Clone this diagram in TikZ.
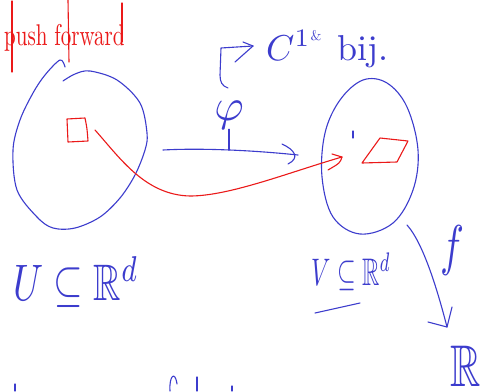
\documentclass[tikz,border=0pt]{standalone}
\usepackage{amssymb}
\usepackage{graphicx}
\definecolor{penblue}{RGB}{60,60,205}
\definecolor{penred}{RGB}{235,25,25}
\begin{document}
\begin{tikzpicture}[x=1pt,y=-1pt,
 bpen/.style={draw=penblue,line width=1.1pt,line cap=round,line join=round},
 rpen/.style={draw=penred,line width=1.1pt,line cap=round,line join=round},
 blab/.style={text=penblue,inner sep=0pt},
 rlab/.style={text=penred,inner sep=0pt}]
\useasboundingbox[fill=white] (0,0) rectangle (481,391);

% push forward
\node[rlab,anchor=base west] (pf) at (4,45) {\scalebox{2.1}[3]{push forward}};
\draw[rpen] (12,1) -- (12,72);
\draw[rpen] (68,0) -- (69,62);
\draw[rpen] (122,3) -- (122,42);

% left region U
\draw[bpen] plot[smooth,tension=0.55] coordinates {(65,67) (60,60) (45,75) (33,93) (20,120) (13,150) (17,190) (37,217) (53,228) (75,228) (100,217) (120,198) (135,175) (145,150) (147,133) (140,103) (117,80) (90,71) (75,74) (63,81)};
\draw[rpen] (67,119) -- (85,118) .. controls (87,128) .. (88,141) -- (68,142) -- cycle;

% right region V
\draw[bpen] plot[smooth cycle,tension=0.6] coordinates {(363,80) (387,83) (407,107) (418,150) (413,190) (393,223) (360,234) (333,217) (322,177) (325,133) (340,100)};
\draw[bpen] (353,131) -- (353,138);
\draw[rpen] (362,163) -- (380,138) -- (408,141) -- (397,162) -- cycle;

% red push-forward curve
\coordinate (rs) at (95,130);
\coordinate (re) at (342,157);
\draw[rpen] (rs) .. controls (120,158) and (145,195) .. (190,196) .. controls (230,196) and (290,172) .. (re);
\draw[rpen] (332,154) -- (re) .. controls (340,163) .. (328,170);

% phi arrow
\coordinate (ps) at (163,150);
\coordinate (pe) at (298,155);
\draw[bpen] (ps) .. controls (200,148) and (250,150) .. (pe);
\draw[bpen] (282,144) .. controls (295,150) and (300,158) .. (288,164);
\node[blab] (phi) at (229,115) {\scalebox{4.5}{$\varphi$}};
\coordinate (phibase) at (229,150);
\draw[bpen] (phi.south) -- (phibase);

% hook arrow and label
\coordinate (hk) at (221,48);
\coordinate (ht) at (253,46);
\draw[bpen] (228,88) .. controls (222,86) and (220,82) .. (220,75) -- (hk) -- (ht);
\draw[bpen] (243,42) -- (ht) -- (235,62);
\node[blab,anchor=base west] (cbij) at (266,60) {\scalebox{3.6}{$C^{1}$\raisebox{0.55em}{\scalebox{0.39}{\&}}\hspace{0.45em}bij.}};

% set labels
\node[blab] (U) at (76,282) {\scalebox{3.8}[5.13]{$U\subseteq\mathbb{R}^d$}};
\node[blab] (V) at (351,272) {\scalebox{2.4}[3.84]{$V\subseteq\mathbb{R}^d$}};
\coordinate (ul1) at (315,313);
\coordinate (ul2) at (360,303);
\draw[bpen] (ul1) -- (ul2);

% f arrow
\coordinate (fs) at (407,225);
\coordinate (fe) at (447,327);
\draw[bpen] (fs) .. controls (425,245) and (440,300) .. (fe);
\draw[bpen] (428,322) -- (fe) -- (452,307);
\node[blab] (f) at (452,250) {\scalebox{4}[5.6]{$f$}};
\node[blab] (R) at (466,366) {\scalebox{4.2}[5.88]{$\mathbb{R}$}};

% cut-off strokes at bottom edge
\draw[bpen] (15,384) -- (15,391);
\draw[bpen] (170,391) .. controls (169,376) and (175,370) .. (177,384);
\draw[bpen] (197,377) -- (197,391);
\draw[bpen] (232,386) -- (232,391);
\end{tikzpicture}
\end{document}
